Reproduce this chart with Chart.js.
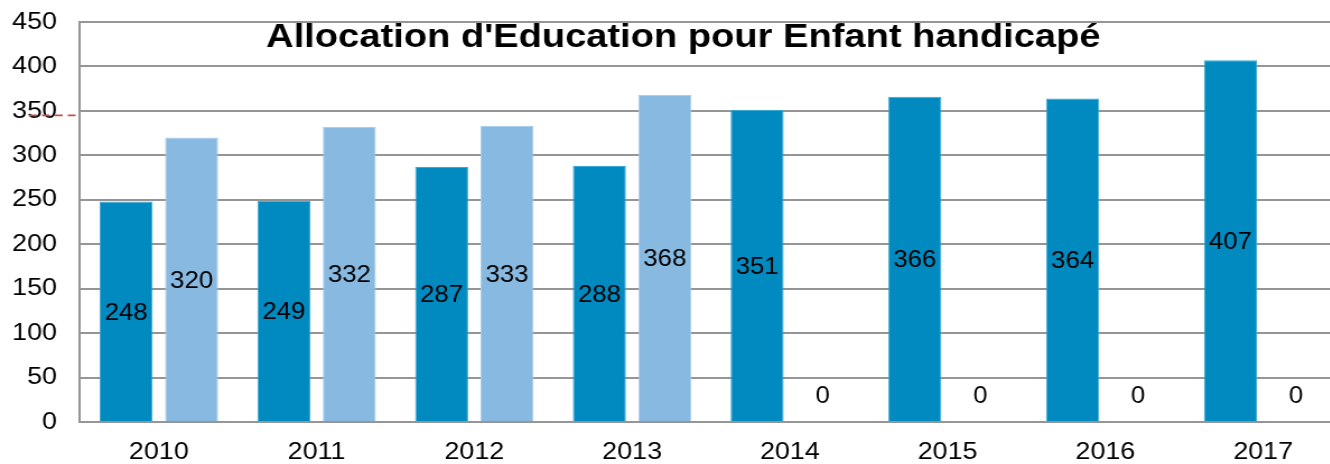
<!DOCTYPE html>
<html lang="fr">
<head>
<meta charset="utf-8">
<title>Allocation d'Education pour Enfant handicapé</title>
<script src="https://cdn.jsdelivr.net/npm/chart.js@4/dist/chart.umd.min.js"></script>
<style>
    html, body { margin: 0; padding: 0; background: #fff; overflow: hidden; }
    /* le canevas est étiré horizontalement, comme l'export d'origine */
    #aeeh { display: block; transform: scaleX(1.1202); transform-origin: 0 0; }
</style>
</head>
<body>
<canvas id="aeeh" width="1198" height="464"></canvas>
<script>
// Données par année
const annees = ['2010', '2011', '2012', '2013', '2014', '2015', '2016', '2017'];
const serieFoncee = [248, 249, 287, 288, 351, 366, 364, 407];
const serieClaire = [320, 332, 333, 368, 0, 0, 0, 0];
const graduations = [0, 50, 100, 150, 200, 250, 300, 350, 400, 450];

const FONT = "'Liberation Sans', Arial, sans-serif";
const GRID = '#959595';

// Titre dessiné dans la zone du graphique (ne prend pas de place dans la mise en page)
const titrePlugin = {
    id: 'titreInterne',
    afterDraw(chart) {
        const ctx = chart.ctx;
        ctx.save();
        ctx.font = `bold 34px ${FONT}`;
        ctx.fillStyle = '#000';
        ctx.textAlign = 'center';
        ctx.textBaseline = 'alphabetic';
        ctx.fillText("Allocation d'Education pour Enfant handicapé", 610, 47);
        ctx.restore();
    }
};

// Petit trait pointillé rouge à gauche de l'axe
const repereRouge = {
    id: 'repereRouge',
    afterDraw(chart) {
        const ctx = chart.ctx;
        const y = chart.scales.y.getPixelForValue(345);
        ctx.save();
        ctx.strokeStyle = '#c0504d';
        ctx.lineWidth = 1.8;
        ctx.setLineDash([7, 4.5]);
        ctx.beginPath();
        ctx.moveTo(26, y);
        ctx.lineTo(chart.chartArea.left, y);
        ctx.stroke();
        ctx.restore();
    }
};

// Valeurs au milieu des barres (au-dessus de l'axe pour les zéros)
const etiquettes = {
    id: 'etiquettes',
    afterDatasetsDraw(chart) {
        const ctx = chart.ctx;
        ctx.save();
        ctx.font = `23px ${FONT}`;
        ctx.fillStyle = '#000';
        ctx.textAlign = 'center';
        ctx.textBaseline = 'middle';
        chart.data.datasets.forEach((ds, i) => {
            const meta = chart.getDatasetMeta(i);
            meta.data.forEach((bar, j) => {
                const v = ds.data[j];
                const y = v > 0 ? (bar.y + bar.base) / 2 + 2 : bar.base - 25;
                ctx.fillText(String(v), bar.x, y);
            });
        });
        ctx.restore();
    }
};

new Chart(document.getElementById('aeeh'), {
    type: 'bar',
    data: {
        labels: annees,
        datasets: [
            {
                label: 'Série 1',
                data: serieFoncee,
                backgroundColor: '#008ac0',
                borderColor: '#3aa6d2',
                borderWidth: 1,
                borderSkipped: 'bottom'
            },
            {
                label: 'Série 2',
                data: serieClaire,
                backgroundColor: '#88b9e1',
                borderColor: '#a9cdeb',
                borderWidth: 1,
                borderSkipped: 'bottom'
            }
        ]
    },
    options: {
        responsive: false,
        animation: false,
        devicePixelRatio: 1,
        categoryPercentage: 0.83,
        barPercentage: 0.81,
        layout: { padding: { top: 22, right: 0, bottom: 0, left: 0 } },
        plugins: {
            legend: { display: false },
            title: { display: false },
            tooltip: { enabled: false }
        },
        scales: {
            x: {
                grid: { display: false, drawTicks: false },
                border: { display: false },
                ticks: {
                    color: '#000',
                    font: { family: FONT, size: 24 },
                    padding: 16
                },
                afterFit(scale) { scale.height = 42; }
            },
            y: {
                min: 0,
                max: 450,
                afterBuildTicks(scale) {
                    scale.ticks = graduations.map(v => ({ value: v }));
                },
                grid: { color: GRID, lineWidth: 2, drawTicks: false },
                border: { display: true, color: GRID, width: 2 },
                ticks: {
                    color: '#000',
                    font: { family: FONT, size: 24 },
                    padding: 20.5
                },
                afterFit(scale) {
                    scale.width = 71.4;
                    scale.paddingTop = 0;
                    scale.paddingBottom = 0;
                }
            }
        }
    },
    plugins: [titrePlugin, repereRouge, etiquettes]
});
</script>
</body>
</html>
